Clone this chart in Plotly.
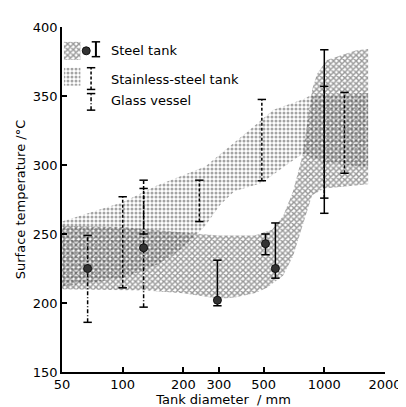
import plotly.graph_objects as go

# ---- data ----
# steel tank band (cross-hatched)
steel_upper_x = [50, 100, 200, 300, 450, 550, 625, 700, 780, 825, 872, 920, 1030, 1430, 1650]
steel_upper_y = [256, 255, 251, 249, 249, 253, 263, 281, 307, 333, 355, 366, 376, 383, 384]
steel_lower_x = [50, 130, 200, 300, 360, 450, 520, 625, 700, 760, 820, 870, 1000, 1650]
steel_lower_y = [210, 209, 207, 203, 204, 207, 211, 220, 234, 249, 266, 278, 283, 286]

# stainless-steel tank band (dotted)
stain_upper_x = [50, 100, 147, 257, 448, 560, 780, 843, 1650]
stain_upper_y = [259, 273, 285, 299, 328, 340, 347.5, 350, 352]
stain_lower_x = [50, 100, 150, 200, 257, 304, 358, 490, 678, 780, 1000, 1650]
stain_lower_y = [212, 218, 228, 240, 256, 271, 281, 287, 302, 308, 302, 298]

# steel tank points (circles) and error bars
steel_pt_x = [67, 127, 295, 511, 572]
steel_pt_y = [225, 240, 202, 243, 225]
steel_bar_x = [295, 511, 572, 1000]
steel_bar_lo = [198, 235, 218, 265]
steel_bar_hi = [231, 250, 258, 383.5]

# stainless-steel tank error bars (dashed)
stain_bar_x = [100, 127, 240, 490, 1000, 1260]
stain_bar_lo = [211, 250, 259, 288.6, 276, 294]
stain_bar_hi = [277, 289, 289, 347.5, 357, 352.6]

# glass vessel error bars (dash-dot)
glass_bar_x = [67, 127]
glass_bar_lo = [186, 197]
glass_bar_hi = [249, 283]

x_tickvals = [50, 100, 200, 300, 500, 1000, 2000]
x_ticktext = ["50", "100", "200", "300", "500", "1000", "2000"]
y_tickvals = [150, 200, 250, 300, 350, 400]

legend_labels = ["Steel tank", "Stainless-steel tank", "Glass vessel"]

FONT = "DejaVu Sans"

fig = go.Figure()

def band(ux, uy, lx, ly, pattern):
    return go.Scatter(
        x=list(ux) + list(reversed(lx)),
        y=list(uy) + list(reversed(ly)),
        mode="lines", fill="toself", line=dict(width=0),
        fillcolor="rgba(0,0,0,0)",
        fillpattern=pattern, hoverinfo="skip", showlegend=False,
    )

PAT_STEEL = dict(shape="x", size=4, solidity=0.6, fgcolor="#333333", bgcolor="rgba(0,0,0,0)")
PAT_STAIN = dict(shape=".", size=4, solidity=0.45, fgcolor="#4a4a4a", bgcolor="rgba(0,0,0,0)")

fig.add_trace(band(stain_upper_x, stain_upper_y, stain_lower_x, stain_lower_y, PAT_STAIN))
fig.add_trace(band(steel_upper_x, steel_upper_y, steel_lower_x, steel_lower_y, PAT_STEEL))

def bars(xs, lo, hi, dash, xaxis="x", yaxis="y", width=1.5):
    lx, ly = [], []
    for x, a, b in zip(xs, lo, hi):
        lx += [x, x, None]
        ly += [a, b, None]
    line_tr = go.Scatter(x=lx, y=ly, mode="lines", xaxis=xaxis, yaxis=yaxis,
                         line=dict(color="black", width=width, dash=dash),
                         hoverinfo="skip", showlegend=False)
    cx, cy = [], []
    for x, a, b in zip(xs, lo, hi):
        cx += [x, x]
        cy += [a, b]
    cap_tr = go.Scatter(x=cx, y=cy, mode="markers", xaxis=xaxis, yaxis=yaxis,
                        marker=dict(symbol="line-ew", size=6,
                                    line=dict(color="black", width=1.5)),
                        hoverinfo="skip", showlegend=False)
    return [line_tr, cap_tr]

for t in bars(steel_bar_x, steel_bar_lo, steel_bar_hi, "solid"):
    fig.add_trace(t)
for t in bars(stain_bar_x, stain_bar_lo, stain_bar_hi, "3px,2px"):
    fig.add_trace(t)
for t in bars(glass_bar_x, glass_bar_lo, glass_bar_hi, "4px,2px,1px,2px"):
    fig.add_trace(t)

fig.add_trace(go.Scatter(x=steel_pt_x, y=steel_pt_y, mode="markers",
                         marker=dict(symbol="circle", size=8, color="#333333",
                                     line=dict(color="#111111", width=1)),
                         hoverinfo="skip", showlegend=False))

# ---- hand-drawn legend on an overlay axis (0..1 space of the plot area) ----
fig.add_trace(go.Scatter(x=[0.006, 0.057, 0.057, 0.006], y=[0.905, 0.905, 0.957, 0.957],
                         xaxis="x2", yaxis="y2", mode="lines", fill="toself",
                         line=dict(width=0), fillcolor="rgba(0,0,0,0)",
                         fillpattern=PAT_STEEL, hoverinfo="skip", showlegend=False))
fig.add_trace(go.Scatter(x=[0.006, 0.057, 0.057, 0.006], y=[0.830, 0.830, 0.882, 0.882],
                         xaxis="x2", yaxis="y2", mode="lines", fill="toself",
                         line=dict(width=0), fillcolor="rgba(0,0,0,0)",
                         fillpattern=PAT_STAIN, hoverinfo="skip", showlegend=False))
fig.add_trace(go.Scatter(x=[0.075], y=[0.931], xaxis="x2", yaxis="y2", mode="markers",
                         marker=dict(symbol="circle", size=8, color="#333333",
                                     line=dict(color="#111111", width=1)),
                         hoverinfo="skip", showlegend=False))
for t in bars([0.105], [0.914], [0.957], "solid", "x2", "y2", width=2):
    fig.add_trace(t)
for t in bars([0.090], [0.819], [0.882], "3px,2px", "x2", "y2"):
    fig.add_trace(t)
for t in bars([0.090], [0.759], [0.807], "4px,2px,1px,2px", "x2", "y2"):
    fig.add_trace(t)

for lab, yy in zip(legend_labels, [0.931, 0.848, 0.787]):
    fig.add_annotation(x=0.145, y=yy, xref="paper", yref="paper", text=lab,
                       showarrow=False, xanchor="left", yanchor="middle",
                       font=dict(family=FONT, size=13, color="black"))

axis_common = dict(showgrid=False, zeroline=False, showline=True, linecolor="black",
                   linewidth=1.5, ticks="inside", ticklen=5, tickwidth=1.5,
                   tickcolor="black", tickfont=dict(family=FONT, size=13, color="black"),
                   mirror=False)

fig.update_layout(
    width=406, height=407,
    margin=dict(l=53, r=21, t=17, b=42),
    paper_bgcolor="white", plot_bgcolor="white",
    showlegend=False,
    xaxis=dict(type="log", range=[1.69897, 3.30110], tickvals=x_tickvals,
               ticktext=x_ticktext,
               title=dict(text="Tank diameter  / mm", standoff=2,
                          font=dict(family=FONT, size=13, color="black")),
               **axis_common),
    yaxis=dict(range=[150, 400], tickvals=y_tickvals,
               title=dict(text="Surface temperature /°C", standoff=4,
                          font=dict(family=FONT, size=13, color="black")),
               **axis_common),
    xaxis2=dict(overlaying="x", range=[0, 1], visible=False),
    yaxis2=dict(overlaying="y", range=[0, 1], visible=False),
)

fig.write_html("out.html")
